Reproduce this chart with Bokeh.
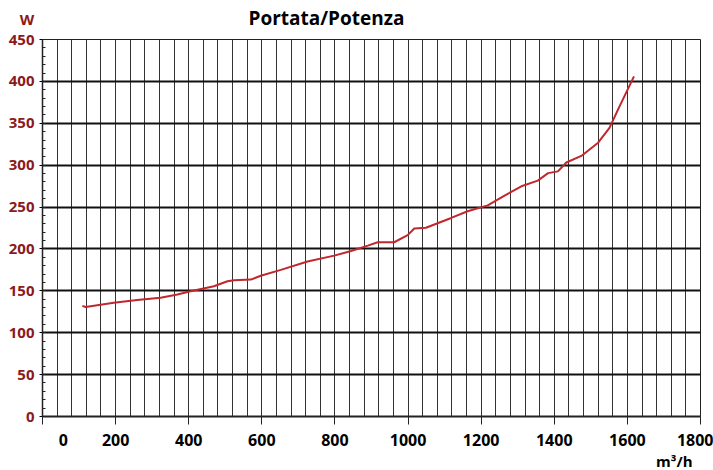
from bokeh.plotting import figure
from bokeh.models import FixedTicker, Range1d, LinearAxis, Title
from bokeh.layouts import column
from bokeh.core.properties import value
from bokeh.embed import file_html
from bokeh.resources import INLINE

# Data
flow = [109, 118, 195, 259, 323, 369, 405, 469, 506, 524, 570, 597, 652, 725, 798,
        844, 890, 917, 962, 999, 1017, 1049, 1118, 1163, 1218, 1264, 1310, 1355,
        1383, 1410, 1433, 1474, 1520, 1551, 1574, 1618]
power = [132, 130.7, 135.8, 139, 141.7, 145.6, 149.6, 155.5, 161.5, 162.7, 163.4, 168,
         175, 185, 192, 197.6, 204, 208, 208, 216.5, 224.4, 225.3, 237, 245, 252,
         263.7, 274.8, 281.5, 290.5, 292.6, 303.2, 311, 326.8, 344.5, 366, 406]

x_ticks = [0, 200, 400, 600, 800, 1000, 1200, 1400, 1600, 1800]
x_labels = ["0", "200", "400", "600", "800", "1000", "1200", "1400", "1600", "1800"]
zero_label_pos = 57          # the reference prints its "0" label here
y_ticks = [0, 50, 100, 150, 200, 250, 300, 350, 400, 450]
y_minor = list(range(0, 451, 10))
x_grid = list(range(0, 1801, 40))

title_text = "Portata/Potenza"
y_unit = "W"
x_unit = "m³/h"

FONT = "Open Sans"
DARKRED = "#8B1A1A"
W = 713
HEAD = 30

# ---- header strip (title + unit "W") ----
top = figure(width=W, height=HEAD, x_range=Range1d(0, W), y_range=Range1d(0, HEAD),
             output_backend="svg", toolbar_location=None, x_axis_type=None, y_axis_type=None,
             min_border=0)
if "frame_align" in top.properties():
    top.frame_align = False
top.outline_line_color = None
top.grid.visible = False
top.text(x=[326], y=[HEAD - 17], text=[title_text], text_align="center", text_baseline="middle",
         text_font=value(FONT), text_font_style="bold", text_font_size="19px", text_color="black")
top.text(x=[26.5], y=[HEAD - 18], text=[y_unit], text_align="center", text_baseline="middle",
         text_font=value(FONT), text_font_style="bold", text_font_size="15px", text_color=DARKRED)

# ---- main chart ----
p = figure(width=W, height=440, x_range=Range1d(0, 1800), y_range=Range1d(0, 450),
           output_backend="svg", toolbar_location=None,
           min_border_left=42, min_border_right=13, min_border_top=9, min_border_bottom=50)
if "frame_align" in p.properties():
    p.frame_align = False
p.background_fill_color = "white"
p.border_fill_color = "white"
p.outline_line_color = "#222222"
p.outline_line_width = 1

p.xgrid.ticker = FixedTicker(ticks=x_grid)
p.xgrid.grid_line_color = "#333333"
p.xgrid.grid_line_width = 1
p.ygrid.grid_line_color = "#111111"
p.ygrid.grid_line_width = 2

# x axis: line + tick marks
ax = p.xaxis[0]
ax.ticker = FixedTicker(ticks=x_ticks)
ax.axis_line_color = "#222222"
ax.axis_line_width = 2
ax.major_tick_out = 8
ax.major_tick_in = 0
ax.major_tick_line_color = "#222222"
ax.minor_tick_line_color = None
ax.major_label_standoff = 0
ax.major_label_text_font_size = "1px"
ax.major_label_text_color = None

# x axis: labels
lab_ticks = [zero_label_pos] + x_ticks[1:]
ax2 = LinearAxis(ticker=FixedTicker(ticks=lab_ticks),
                 major_label_overrides={t: s for t, s in zip(lab_ticks, x_labels)})
ax2.axis_line_color = None
ax2.major_tick_line_color = None
ax2.minor_tick_line_color = None
ax2.major_label_standoff = 3
ax2.major_label_text_font = FONT
ax2.major_label_text_font_style = "bold"
ax2.major_label_text_font_size = "16px"
ax2.major_label_text_color = "black"
p.add_layout(ax2, "below")

p.add_layout(Title(text=x_unit, align="right", offset=8, standoff=0,
                   text_font=FONT, text_font_style="bold", text_font_size="15px",
                   text_color="black"), "below")

# y axis
p.yaxis.ticker = FixedTicker(ticks=y_ticks, minor_ticks=y_minor)
p.yaxis.axis_line_color = "#222222"
p.yaxis.axis_line_width = 1.5
p.yaxis.major_tick_out = 3
p.yaxis.major_tick_in = 0
p.yaxis.minor_tick_in = 3
p.yaxis.minor_tick_out = 0
p.yaxis.minor_tick_line_color = "#222222"
p.yaxis.major_label_standoff = 5
p.yaxis.major_label_text_font = FONT
p.yaxis.major_label_text_font_style = "bold"
p.yaxis.major_label_text_font_size = "15px"
p.yaxis.major_label_text_color = DARKRED

p.line(flow, power, line_color="#C1272D", line_width=2)

layout = column(top, p, spacing=0)
open("out.html", "w").write(file_html(layout, INLINE))
